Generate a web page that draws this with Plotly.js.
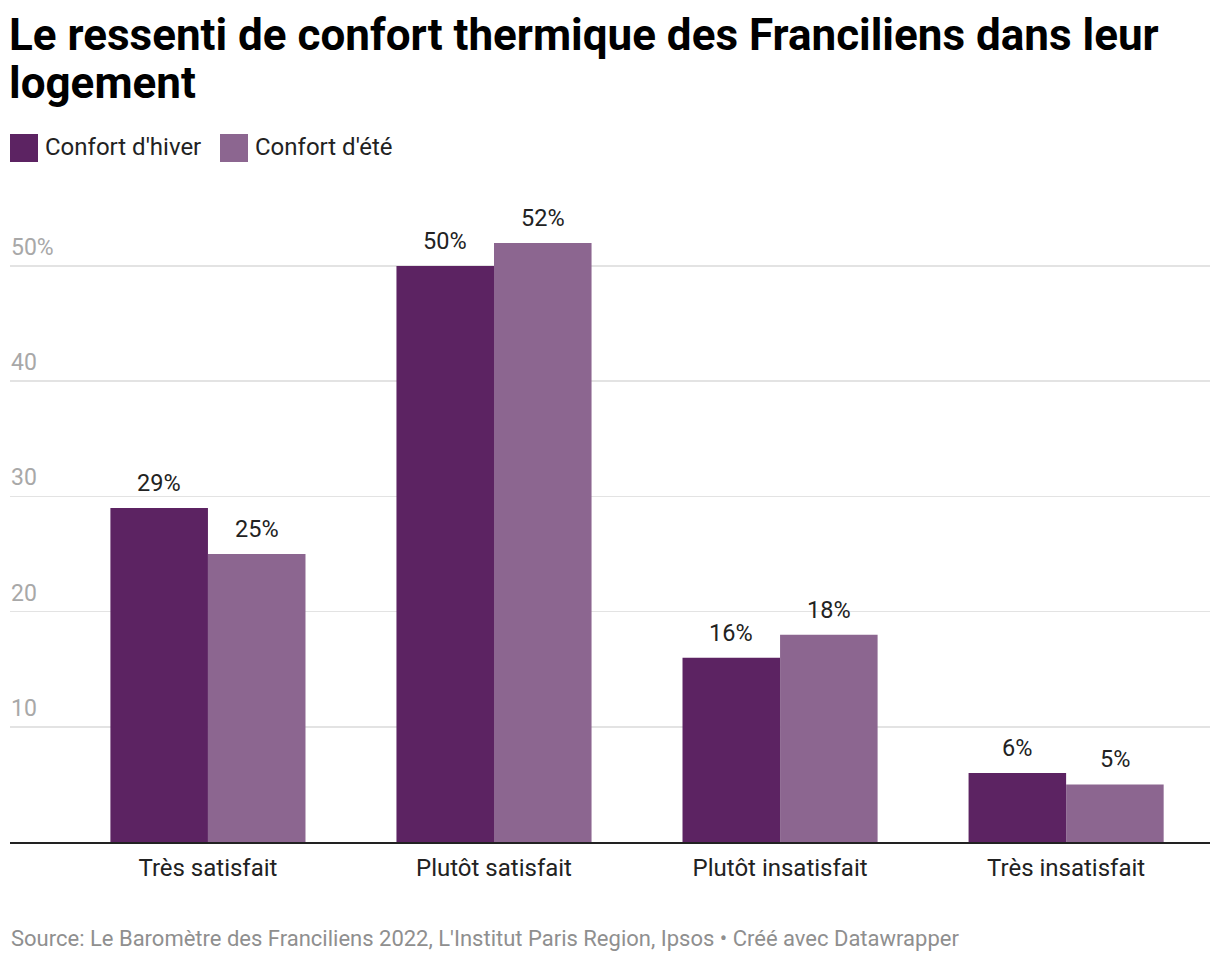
<!DOCTYPE html>
<html><head><meta charset="utf-8">
<script src="https://cdn.plot.ly/plotly-3.0.1.min.js"></script>
<style>html,body{margin:0;padding:0;background:#fff}#chart{width:1220px;height:964px}</style>
</head><body><div id="chart"></div>
<script>
const categories = ["Très satisfait", "Plutôt satisfait", "Plutôt insatisfait", "Très insatisfait"];
const seriesNames = ["Confort d'hiver", "Confort d'été"];
const hiver = [29, 50, 16, 6];
const ete = [25, 52, 18, 5];
const yTicks = [10, 20, 30, 40, 50];
const yTickLabels = ["10", "20", "30", "40", "50%"];
const titleLines = ["Le ressenti de confort thermique des Franciliens dans leur", "logement"];
const sourceText = "Source: Le Baromètre des Franciliens 2022, L'Institut Paris Region, Ipsos • Créé avec Datawrapper";
const colors = ["#5c2362", "#8c6690"];

const font = "Roboto, 'Noto Sans', sans-serif";
const H = 964, plotTop = 200, plotBot = 842, plotW = 1200;
function py(px){ return (plotBot - px) / (plotBot - plotTop); }

const traces = [hiver, ete].map((vals, i) => ({
  type: "bar", name: seriesNames[i], x: categories, y: vals,
  marker: {color: colors[i], line: {width: 0}},
  hoverinfo: "skip", showlegend: false
}));

const annotations = [];
// y tick labels
yTicks.forEach((v, i) => annotations.push({
  xref: "paper", yref: "y", x: 0, y: v, text: yTickLabels[i],
  xanchor: "left", yanchor: "bottom", yshift: 3, xshift: -1, showarrow: false,
  font: {family: font, size: 23, color: "#a8a8a8"}
}));
// bar value labels
const barHalf = 286 * (1 - 0.318) / 4;
[hiver, ete].forEach((vals, s) => vals.forEach((v, i) => annotations.push({
  xref: "x", yref: "y", x: categories[i], y: v, text: v + "%",
  xanchor: "center", yanchor: "bottom", xshift: (s === 0 ? -1 : 1) * barHalf, yshift: 9,
  showarrow: false, font: {family: font, size: 23.5, color: "#222"}
})));
// title
titleLines.forEach((t, i) => annotations.push({
  xref: "paper", yref: "paper", x: 0, y: py([35, 83][i]), text: "<b>" + t + "</b>",
  xanchor: "left", yanchor: "middle", xshift: -3, showarrow: false,
  font: {family: font, size: 44, color: "#000"}
}));
// legend
const legendX = [10, 220];
const legShapes = seriesNames.map((n, i) => ({
  type: "rect", xref: "paper", yref: "paper", layer: "above",
  x0: (legendX[i] - 10) / plotW, x1: (legendX[i] + 28 - 10) / plotW,
  y0: py(162), y1: py(134), fillcolor: colors[i], line: {width: 0}
}));
seriesNames.forEach((n, i) => annotations.push({
  xref: "paper", yref: "paper", x: (legendX[i] + 33 - 10) / plotW, y: py(147),
  text: n, xanchor: "left", yanchor: "middle", showarrow: false,
  font: {family: font, size: 24, color: "#222"}
}));
// source
annotations.push({
  xref: "paper", yref: "paper", x: 0, y: py(938), xshift: -1,
  text: sourceText, xanchor: "left", yanchor: "middle", showarrow: false,
  font: {family: font, size: 22, color: "#8f8f8f"}
});

const layout = {
  width: 1220, height: 964,
  margin: {l: 10, r: 10, t: plotTop, b: H - plotBot, pad: 0},
  paper_bgcolor: "#fff", plot_bgcolor: "#fff",
  barmode: "group", bargap: 0.318, bargroupgap: 0,
  xaxis: {type: "category", range: [-0.692, 3.503], showline: true, linecolor: "#222", linewidth: 2,
    ticks: "", showgrid: false, zeroline: false, fixedrange: true, ticklabelstandoff: 3,
    tickfont: {family: font, size: 24, color: "#222"}},
  yaxis: {range: [0, 55.73], tickvals: yTicks, showticklabels: false, showgrid: true,
    gridcolor: "#e3e3e3", gridwidth: 1.5, zeroline: false, ticks: "", fixedrange: true},
  shapes: legShapes,
  annotations: annotations,
  showlegend: false
};
Plotly.newPlot("chart", traces, layout, {displayModeBar: false, staticPlot: true});
</script></body></html>
